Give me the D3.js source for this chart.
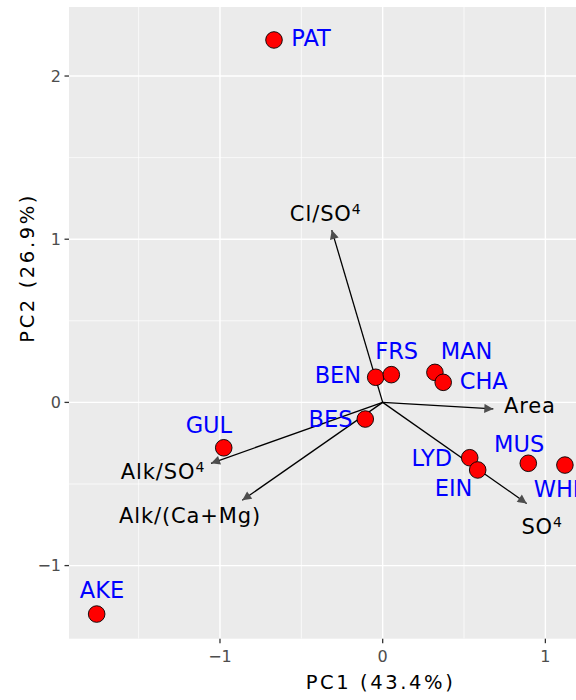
<!DOCTYPE html>
<html><head><meta charset="utf-8">
<script src="https://cdn.jsdelivr.net/npm/d3@7"></script>
<style>html,body{margin:0;padding:0;background:#fff;overflow:hidden}</style>
</head><body>
<svg id="chart" width="576" height="700"></svg>
<script>
// Sample scores (PC1, PC2)
const sites = ["PAT","BEN","FRS","MAN","CHA","BES","LYD","EIN","MUS","WHI","GUL","AKE"];
const pc1 = [-0.668,-0.043,0.053,0.321,0.372,-0.107,0.535,0.584,0.895,1.120,-0.977,-1.758];
const pc2 = [2.221,0.154,0.170,0.184,0.123,-0.102,-0.339,-0.414,-0.373,-0.384,-0.278,-1.297];
// Label positions (data coordinates)
const labX = [-0.440,-0.275,0.086,0.516,0.621,-0.321,0.302,0.436,0.839,1.069,-1.068,-1.725];
const labY = [2.233,0.166,0.313,0.313,0.129,-0.100,-0.341,-0.525,-0.252,-0.528,-0.135,-1.146];
// Loadings arrows
const varNames = ["Cl/SO","Area","SO","Alk/SO","Alk/(Ca+Mg)"];
const varSup = ["4","","4","4",""];
const arrX = [-0.313,0.680,0.885,-1.055,-0.863];
const arrY = [1.056,-0.040,-0.619,-0.373,-0.600];
const varLabX = [-0.350,0.905,0.980,-1.350,-1.184];
const varLabY = [1.160,-0.019,-0.763,-0.426,-0.690];
// Axes
const xTicks = [-1,0,1];
const yTicks = [-1,0,1,2];
const xMinor = [-1.5,-0.5,0.5,1.5];
const yMinor = [-0.5,0.5,1.5];
const xTitle = "PC1 (43.4%)";
const yTitle = "PC2 (26.9%)";

const svg = d3.select("#chart");
const L = 69, T = 7, B = 638.7, R = 667.4;
const x = d3.scaleLinear().domain([-1.928, 1.75]).range([L, R]);
const y = d3.scaleLinear().domain([-1.448, 2.423]).range([B, T]);
const font = "'DejaVu Sans', sans-serif";
const fmt = d => d < 0 ? "\u2212" + Math.abs(d) : String(d);

const defs = svg.append("defs");
defs.append("clipPath").attr("id","clip").append("rect")
  .attr("x",L).attr("y",T).attr("width",R-L).attr("height",B-T);
defs.append("marker").attr("id","ah").attr("viewBox","0 0 10 10")
  .attr("refX",10).attr("refY",5).attr("markerWidth",10).attr("markerHeight",9)
  .attr("markerUnits","userSpaceOnUse").attr("orient","auto")
  .append("path").attr("d","M0,0L10,5L0,10Z").attr("fill","#4d4d4d");

svg.append("rect").attr("x",L).attr("y",T).attr("width",R-L).attr("height",B-T).attr("fill","#ebebeb");

const g = svg.append("g").attr("clip-path","url(#clip)");
g.selectAll(".xmin").data(xMinor).join("line")
  .attr("x1",d=>x(d)).attr("x2",d=>x(d)).attr("y1",T).attr("y2",B)
  .attr("stroke","#fff").attr("stroke-width",0.7);
g.selectAll(".ymin").data(yMinor).join("line").attr("class","ymin")
  .attr("y1",d=>y(d)).attr("y2",d=>y(d)).attr("x1",L).attr("x2",R)
  .attr("stroke","#fff").attr("stroke-width",0.7);
g.selectAll(".xmaj").data(xTicks).join("line").attr("class","xmaj")
  .attr("x1",d=>x(d)).attr("x2",d=>x(d)).attr("y1",T).attr("y2",B)
  .attr("stroke","#fff").attr("stroke-width",1.4);
g.selectAll(".ymaj").data(yTicks).join("line").attr("class","ymaj")
  .attr("y1",d=>y(d)).attr("y2",d=>y(d)).attr("x1",L).attr("x2",R)
  .attr("stroke","#fff").attr("stroke-width",1.4);

// arrows
const arrows = varNames.map((n,i)=>({n, s:varSup[i], x:arrX[i], y:arrY[i], lx:varLabX[i], ly:varLabY[i]}));
g.selectAll(".arr").data(arrows).join("line").attr("class","arr")
  .attr("x1",x(0)).attr("y1",y(0)).attr("x2",d=>x(d.x)).attr("y2",d=>y(d.y))
  .attr("stroke","#000").attr("stroke-width",1.3).attr("marker-end","url(#ah)");
const vt = g.selectAll(".vlab").data(arrows).join("text").attr("class","vlab")
  .attr("x",d=>x(d.lx)).attr("y",d=>y(d.ly)).attr("dy","0.36em")
  .attr("text-anchor","middle").attr("font-family",font).attr("font-size",21)
  .attr("letter-spacing",0.9).attr("fill","#000");
vt.append("tspan").text(d=>d.n);
vt.filter(d=>d.s).append("tspan").attr("dy","-0.5em").attr("font-size",14).text(d=>d.s);

// points
const pts = sites.map((s,i)=>({s, x:pc1[i], y:pc2[i], lx:labX[i], ly:labY[i]}));
g.selectAll(".pt").data(pts).join("circle").attr("class","pt")
  .attr("cx",d=>x(d.x)).attr("cy",d=>y(d.y)).attr("r",8.3)
  .attr("fill","#ff0000").attr("stroke","#000").attr("stroke-width",0.9);
g.selectAll(".plab").data(pts).join("text").attr("class","plab")
  .attr("x",d=>x(d.lx)).attr("y",d=>y(d.ly)).attr("dy","0.36em")
  .attr("text-anchor","middle").attr("font-family",font).attr("font-size",22.5)
  .attr("fill","#0000ff").text(d=>d.s);

// axes
svg.selectAll(".xt").data(xTicks).join("line").attr("class","xt")
  .attr("x1",d=>x(d)).attr("x2",d=>x(d)).attr("y1",B).attr("y2",B+4.5)
  .attr("stroke","#333").attr("stroke-width",1.3);
svg.selectAll(".xtl").data(xTicks).join("text").attr("class","xtl")
  .attr("x",d=>x(d)).attr("y",B+23).attr("text-anchor","middle")
  .attr("font-family",font).attr("font-size",16).attr("fill","#4d4d4d").text(fmt);
svg.selectAll(".yt").data(yTicks).join("line").attr("class","yt")
  .attr("y1",d=>y(d)).attr("y2",d=>y(d)).attr("x1",L-4.5).attr("x2",L)
  .attr("stroke","#333").attr("stroke-width",1.3);
svg.selectAll(".ytl").data(yTicks).join("text").attr("class","ytl")
  .attr("x",L-8).attr("y",d=>y(d)).attr("dy","0.36em").attr("text-anchor","end")
  .attr("font-family",font).attr("font-size",16).attr("fill","#4d4d4d").text(fmt);

svg.append("text").attr("x",(L+576)/2+58).attr("y",689).attr("text-anchor","middle")
  .attr("font-family",font).attr("font-size",19.5).attr("letter-spacing",2.6).attr("fill","#000").text(xTitle);
svg.append("text").attr("transform",`translate(34,${(T+B)/2-55}) rotate(-90)`).attr("text-anchor","middle")
  .attr("font-family",font).attr("font-size",19.5).attr("letter-spacing",2.6).attr("fill","#000").text(yTitle);
</script>
</body></html>
